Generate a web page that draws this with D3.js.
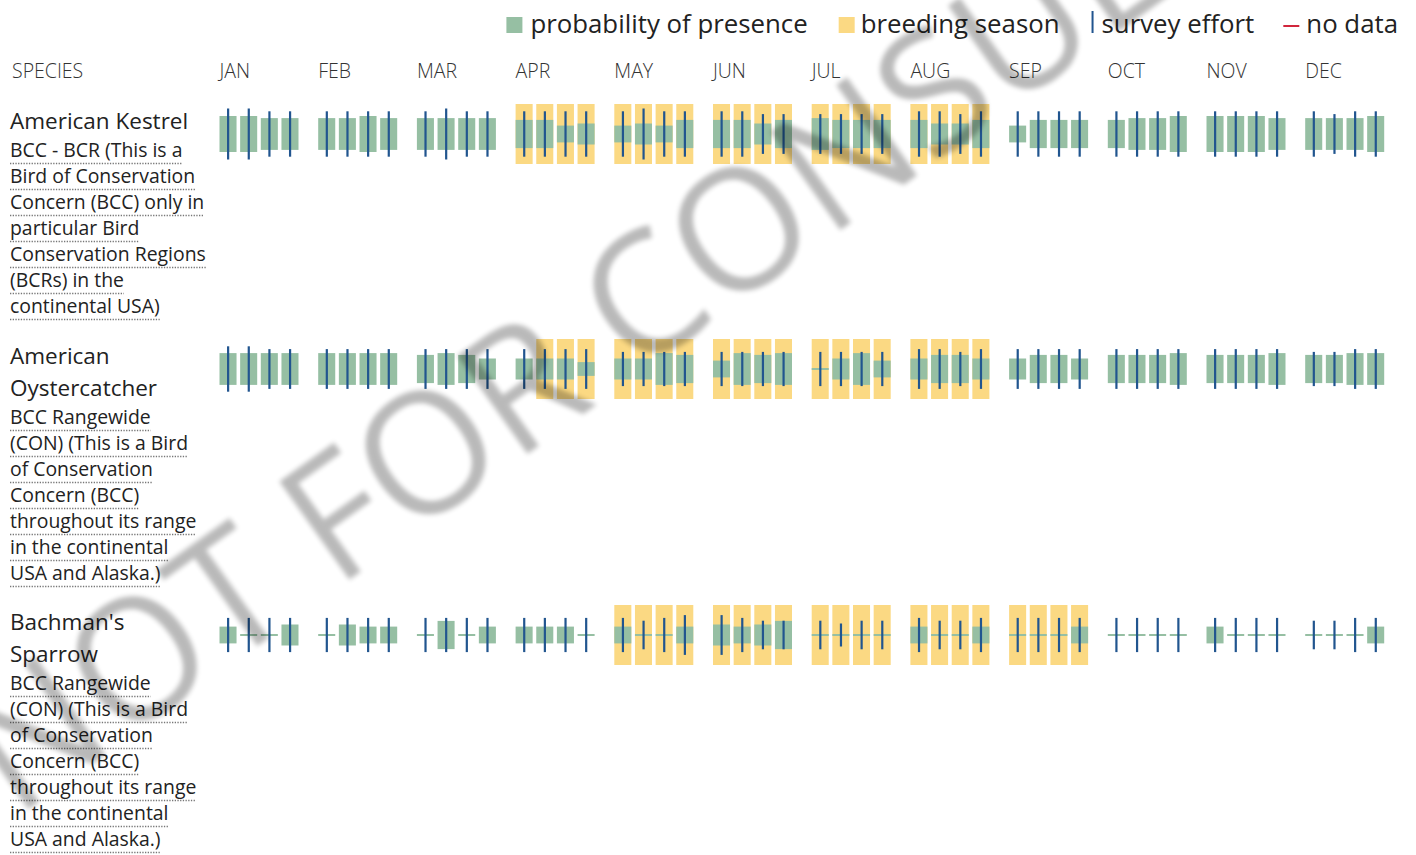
<!DOCTYPE html>
<html>
<head>
<meta charset="utf-8">
<script src="https://cdn.jsdelivr.net/npm/d3@7"></script>
<style>
  body { margin: 0; background: #fff; }
  svg text { font-family: "Open Sans", sans-serif; }
</style>
</head>
<body>
<script>
// months and species
const months = ['JAN', 'FEB', 'MAR', 'APR', 'MAY', 'JUN', 'JUL', 'AUG', 'SEP', 'OCT', 'NOV', 'DEC'];
const speciesNames = [['American Kestrel'], ['American', 'Oystercatcher'], ["Bachman's", 'Sparrow']];
const speciesNotes = [
  ['BCC - BCR (This is a', 'Bird of Conservation', 'Concern (BCC) only in', 'particular Bird',
   'Conservation Regions', '(BCRs) in the', 'continental USA)'],
  ['BCC Rangewide', '(CON) (This is a Bird', 'of Conservation', 'Concern (BCC)',
   'throughout its range', 'in the continental', 'USA and Alaska.)'],
  ['BCC Rangewide', '(CON) (This is a Bird', 'of Conservation', 'Concern (BCC)',
   'throughout its range', 'in the continental', 'USA and Alaska.)']
];
const legendLabels = ['probability of presence', 'breeding season', 'survey effort', 'no data'];

// probability of presence per week (0-10 scale), 4 weeks per month
const kestrelPresence = [
  6, 6, 5.3, 5.3,   5.3, 5.3, 6, 5.3,   5.3, 5.3, 5.3, 5.3,   4.7, 4.7, 2.8, 3.5,
  2.8, 3.5, 2.8, 4.7,   4.7, 4.7, 3.5, 4.7,   5.3, 4.7, 4.7, 4.7,   4.7, 3.5, 3.5, 4.7,
  2.8, 4.7, 4.7, 4.7,   4.7, 5.3, 5.3, 6,   6, 6, 6, 5.3,   5.3, 5.3, 5.3, 6
];
const oystercatcherPresence = [
  5.3, 5.3, 5.3, 5.3,   5.3, 5.3, 5.3, 5.3,   4.7, 5.3, 4.7, 3.5,   3.5, 3.5, 3.5, 2.3,
  3.5, 3.5, 5.3, 4.7,   2.8, 5.3, 4.7, 5.3,   0, 3.5, 5.3, 2.8,   3.5, 4.7, 4.7, 3.5,
  3.5, 4.7, 4.7, 3.5,   4.7, 4.7, 4.7, 5.3,   4.7, 4.7, 4.7, 5.3,   4.7, 4.7, 5.3, 5.3
];
const sparrowPresence = [
  2.8, 0, 0, 3.5,   0, 3.5, 2.8, 2.8,   0, 4.7, 0, 2.8,   2.8, 2.8, 2.8, 0,
  2.8, 0, 0, 2.8,   3.5, 2.8, 3.5, 4.7,   0, 0, 0, 0,   2.8, 0, 0, 2.8,
  0, 0, 0, 2.8,   0, 0, 0, 0,   2.8, 0, 0, 0,   0, 0, 0, 2.8
];

// survey effort per week (levels 1-6)
const kestrelEffort = [
  6, 6, 5, 5,   5, 5, 5, 5,   5, 6, 5, 5,   5, 5, 5, 5,
  5, 6, 5, 5,   5, 5, 4, 4,   4, 4, 4, 4,   5, 5, 4, 5,
  5, 5, 5, 5,   5, 5, 5, 5,   5, 5, 5, 5,   5, 4, 5, 5
];
const oystercatcherEffort = [
  5, 5, 4, 4,   4, 4, 4, 4,   4, 4, 4, 4,   4, 4, 4, 4,
  3, 3, 3, 3,   3, 3, 3, 3,   3, 3, 3, 3,   4, 4, 3, 4,
  4, 4, 4, 4,   4, 4, 4, 4,   4, 4, 4, 4,   3, 3, 4, 4
];
const sparrowEffort = [
  3, 3, 3, 3,   3, 3, 3, 3,   3, 3, 3, 3,   3, 3, 3, 3,
  3, 2, 3, 4,   4, 3, 2, 2,   2, 1, 2, 2,   3, 2, 2, 3,
  3, 3, 3, 3,   3, 3, 3, 3,   3, 3, 3, 3,   2, 2, 3, 3
];

// breeding season weeks (1 = breeding)
const kestrelBreeding = [
  0, 0, 0, 0,   0, 0, 0, 0,   0, 0, 0, 0,   1, 1, 1, 1,
  1, 1, 1, 1,   1, 1, 1, 1,   1, 1, 1, 1,   1, 1, 1, 1,
  0, 0, 0, 0,   0, 0, 0, 0,   0, 0, 0, 0,   0, 0, 0, 0
];
const oystercatcherBreeding = [
  0, 0, 0, 0,   0, 0, 0, 0,   0, 0, 0, 0,   0, 1, 1, 1,
  1, 1, 1, 1,   1, 1, 1, 1,   1, 1, 1, 1,   1, 1, 1, 1,
  0, 0, 0, 0,   0, 0, 0, 0,   0, 0, 0, 0,   0, 0, 0, 0
];
const sparrowBreeding = [
  0, 0, 0, 0,   0, 0, 0, 0,   0, 0, 0, 0,   0, 0, 0, 0,
  1, 1, 1, 1,   1, 1, 1, 1,   1, 1, 1, 1,   1, 1, 1, 1,
  1, 1, 1, 1,   0, 0, 0, 0,   0, 0, 0, 0,   0, 0, 0, 0
];

const presenceRows = [kestrelPresence, oystercatcherPresence, sparrowPresence];
const effortRows = [kestrelEffort, oystercatcherEffort, sparrowEffort];
const breedingRows = [kestrelBreeding, oystercatcherBreeding, sparrowBreeding];

const width = 1416, height = 855;
const green = '#96bfa3', yellow = '#fbd983', blue = '#21558f', red = '#d1263c';

const svg = d3.select('body').append('svg')
  .attr('width', width)
  .attr('height', height);

const monthX = d3.scaleBand().domain(months).range([219.5, 219.5 + 12 * 98.7]);
const weekX = d3.scaleBand().domain([0, 1, 2, 3]).range([0, 79]).paddingInner(0.175);
const presenceH = d3.scaleLinear().domain([0, 10]).range([0, 60]);
const effortH = d3.scaleLinear().domain([1, 6]).range([23, 51]);
const boxH = 60;

// legend, right aligned
const legend = svg.append('g').attr('class', 'legend');
const legendTexts = legend.selectAll('text')
  .data(legendLabels)
  .enter()
  .append('text')
  .attr('y', 33)
  .attr('font-size', 25.8)
  .attr('fill', '#222')
  .text(d => d);
const widths = legendTexts.nodes().map(n => n.getComputedTextLength());
const markerW = [24, 22, 10, 23];
const gaps = [31, 32, 29, 0];
let lx = 1398 - d3.sum(widths) - d3.sum(markerW) - d3.sum(gaps);
legendLabels.forEach((lab, i) => {
  if (i === 0) legend.append('rect').attr('x', lx).attr('y', 17).attr('width', 16).attr('height', 16).attr('fill', green);
  if (i === 1) legend.append('rect').attr('x', lx).attr('y', 17).attr('width', 16).attr('height', 16).attr('fill', yellow);
  if (i === 2) legend.append('rect').attr('x', lx).attr('y', 11).attr('width', 2).attr('height', 22).attr('fill', blue);
  if (i === 3) legend.append('rect').attr('x', lx).attr('y', 25).attr('width', 16).attr('height', 2).attr('fill', red);
  d3.select(legendTexts.nodes()[i]).attr('x', lx + markerW[i]);
  lx += markerW[i] + widths[i] + gaps[i];
});

// header
svg.append('text')
  .attr('x', 12).attr('y', 78)
  .attr('font-size', 19.5).attr('font-weight', 300).attr('fill', '#333')
  .text('SPECIES');
svg.selectAll('.month')
  .data(months)
  .enter()
  .append('text')
  .attr('class', 'month')
  .attr('x', d => monthX(d))
  .attr('y', 78)
  .attr('font-size', 19.5).attr('font-weight', 300).attr('fill', '#333')
  .text(d => d);

// species rows
let rowTop = 104;
speciesNames.forEach((names, r) => {
  const g = svg.append('g');
  const cy = rowTop + boxH / 2;

  names.forEach((n, i) => {
    g.append('text')
      .attr('x', 10).attr('y', rowTop + 25 + i * 32)
      .attr('font-size', 22.5).attr('fill', '#222')
      .text(n);
  });
  const noteTop = rowTop + 25 + (names.length - 1) * 32 + 28;
  speciesNotes[r].forEach((line, i) => {
    const t = g.append('text')
      .attr('x', 10).attr('y', noteTop + i * 26)
      .attr('font-size', 19.4).attr('fill', '#222')
      .text(line);
    const w = t.node().getComputedTextLength();
    g.append('line')
      .attr('x1', 10).attr('x2', 10 + w)
      .attr('y1', noteTop + i * 26 + 6.5).attr('y2', noteTop + i * 26 + 6.5)
      .attr('stroke', '#777').attr('stroke-width', 1.3)
      .attr('stroke-dasharray', '1.3,1.4');
  });

  const weeks = d3.range(48).map(i => ({
    month: months[Math.floor(i / 4)],
    week: i % 4,
    presence: presenceRows[r][i],
    effort: effortRows[r][i],
    breeding: breedingRows[r][i]
  }));
  const xOf = d => monthX(d.month) + weekX(d.week);
  const bw = weekX.bandwidth();

  g.selectAll('.breeding')
    .data(weeks.filter(d => d.breeding))
    .enter()
    .append('rect')
    .attr('x', xOf).attr('y', cy - boxH / 2)
    .attr('width', bw).attr('height', boxH)
    .attr('fill', yellow);

  g.selectAll('.presence')
    .data(weeks)
    .enter()
    .append('rect')
    .attr('x', xOf)
    .attr('y', d => cy - Math.max(2, presenceH(d.presence)) / 2)
    .attr('width', bw)
    .attr('height', d => Math.max(2, presenceH(d.presence)))
    .attr('fill', green);

  g.selectAll('.effort')
    .data(weeks)
    .enter()
    .append('rect')
    .attr('x', d => xOf(d) + bw / 2 - 1)
    .attr('y', d => cy - effortH(d.effort) / 2)
    .attr('width', 2.2)
    .attr('height', d => effortH(d.effort))
    .attr('fill', blue);

  rowTop += names.length * 31 + speciesNotes[r].length * 26 + 22;
});

// watermark
const defs = svg.append('defs');
defs.append('filter').attr('id', 'blur')
  .append('feGaussianBlur').attr('stdDeviation', 2.5);
svg.append('text')
  .attr('transform', 'translate(615,265) scale(1.04) rotate(2.5) translate(-615,-265) translate(62,822) rotate(-38)')
  .attr('font-size', 162)
  .attr('fill', '#000')
  .attr('opacity', 0.27)
  .attr('filter', 'url(#blur)')
  .attr('pointer-events', 'none')
  .text('NOT FOR CONSULTATION');
</script>
</body>
</html>
